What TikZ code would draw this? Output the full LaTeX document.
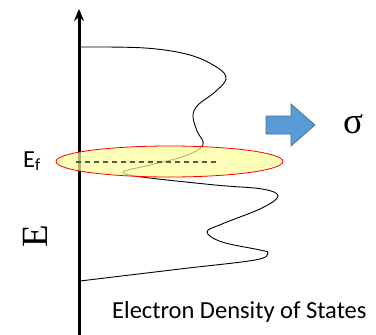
\documentclass[tikz,border=0pt]{standalone}
\usepackage{fontspec}
\newfontfamily\labelfont{Carlito}
\newfontfamily\symbolfont{Liberation Serif}
\usepackage{tikz}
\usetikzlibrary{arrows.meta}
\definecolor{arrowblue}{HTML}{5B9BD5}
\definecolor{arrowedge}{HTML}{41719C}
\definecolor{fermifill}{HTML}{FFFF99}
\definecolor{fermidash}{HTML}{555555}

\begin{document}
\begin{tikzpicture}[x=1pt, y=-1pt,
    % Energy axis: heavy vertical line with a solid tip on top.
    energyaxis/.style={line width=3pt, -{Stealth[length=12pt, width=10pt]}},
    % Density-of-states curve.
    dos/.style={black, line width=0.9pt},
    % Highlighted window round the Fermi level.
    fermiwindow/.style={draw=red, line width=0.8pt, fill=fermifill,
                        fill opacity=0.7},
    % Fermi level marker line.
    fermiline/.style={fermidash, line width=1.6pt, dash pattern=on 5pt off 4pt},
    % Block arrow pointing to the conductivity.
    blockarrow/.style={fill=arrowblue, draw=arrowedge, line width=0.7pt},
    % Sans labels.
    sanslabel/.style={font=\labelfont\fontsize{24.5}{28}\selectfont, inner sep=0pt},
    % Large serif symbols.
    biglabel/.style={font=\symbolfont\fontsize{37}{40}\selectfont, inner sep=0pt}
]
    \useasboundingbox (0,0) rectangle (376,335);

    % === Axis ===
    \coordinate (axisbottom) at (79,335);
    \coordinate (axistop)    at (79,9);
    \draw[energyaxis] (axisbottom) -- (axistop);

    % === Density of states ===
    \draw[dos] plot[smooth, tension=0.6] coordinates {
        (80,47) (145,48) (190,55) (218,68) (226,79) (215,92) (198,105)
        (193,116) (197,131) (203,145) (185,156) (150,165) (123,172)
        (142,177) (215,185) (262,189) (278,196) (262,208) (222,224)
        (207,232) (222,242) (260,250) (268,253) (255,260) (180,269) (80,281)};

    % === Fermi level window ===
    \path[fermiwindow] (169.5,161.5) ellipse [x radius=113.5, y radius=15.5];
    \coordinate (fermistart) at (76,162);
    \coordinate (fermiend)   at (216,162);
    \draw[fermiline] (fermistart) -- (fermiend);

    % === Labels ===
    \node[sanslabel, anchor=base west] (fermilabel) at (23,167)
        {E\textsubscript{f}};
    \node[biglabel, rotate=90] (energylabel) at (35,236.5) {E};
    \node[sanslabel, anchor=base west] (doslabel) at (112,318)
        {Electron Density of States};

    % === Block arrow to sigma ===
    \draw[blockarrow] (266,116) -- (291,116) -- (291,104) -- (315,125)
        -- (291,146) -- (291,134) -- (266,134) -- cycle;
    \node[biglabel] (sigma) at (353,124) {σ};

\end{tikzpicture}
\end{document}
